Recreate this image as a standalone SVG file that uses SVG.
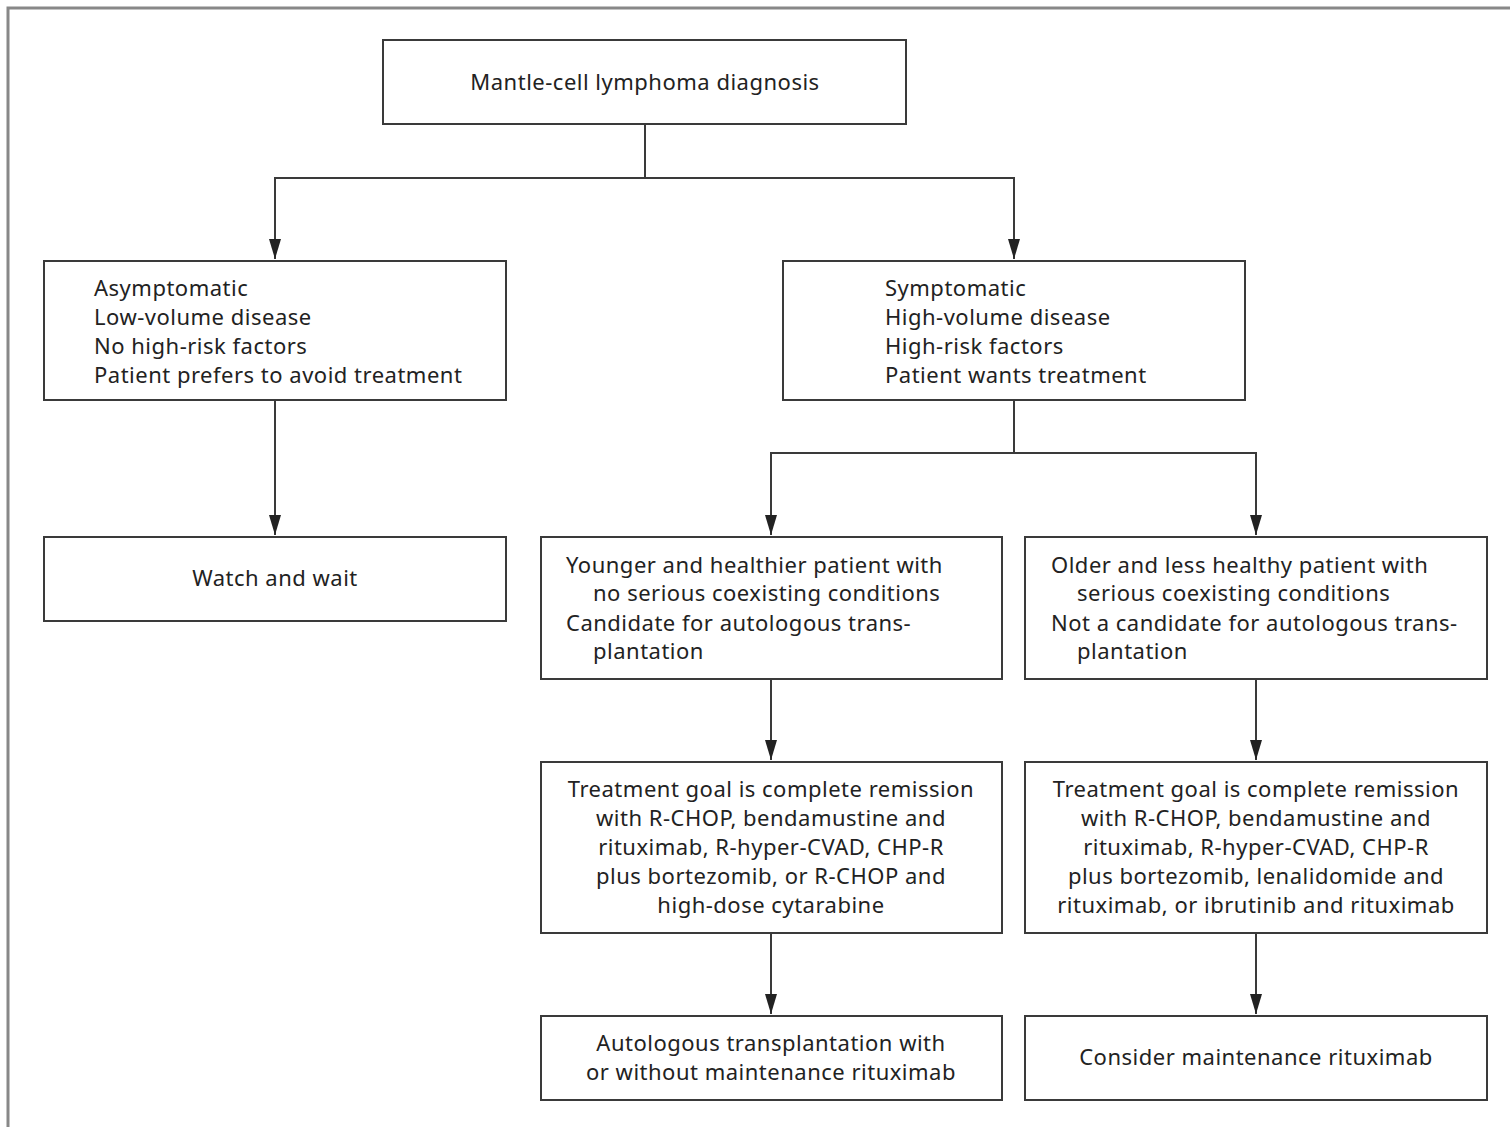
<svg xmlns="http://www.w3.org/2000/svg" width="1510" height="1127" viewBox="0 0 1510 1127">
<defs>
<style>
.box{fill:#fff;stroke:#3a3a3a;stroke-width:2}
.t{font-family:"Noto Sans","Open Sans",sans-serif;font-size:22px;letter-spacing:0.5px;fill:#222}
.c{text-anchor:middle}
.ln{fill:none;stroke:#3a3a3a;stroke-width:2}
</style>
<marker id="arr" viewBox="0 0 20 12" refX="20" refY="6" markerWidth="20" markerHeight="12" markerUnits="userSpaceOnUse" orient="auto">
<path d="M0,0 L20,6 L0,12 Z" fill="#222"/>
</marker>
</defs>
<rect width="1510" height="1127" fill="#fff"/>
<path d="M8,1127 V8 H1510" fill="none" stroke="#888" stroke-width="3"/>
<g id="connectors">
<path class="ln" d="M645,124 V178 H275 V259" marker-end="url(#arr)"/>
<path class="ln" d="M645,178 H1014 V259" marker-end="url(#arr)"/>
<path class="ln" d="M275,400 V535" marker-end="url(#arr)"/>
<path class="ln" d="M1014,400 V453 H771 V535" marker-end="url(#arr)"/>
<path class="ln" d="M1014,453 H1256 V535" marker-end="url(#arr)"/>
<path class="ln" d="M771,679 V760" marker-end="url(#arr)"/>
<path class="ln" d="M1256,679 V760" marker-end="url(#arr)"/>
<path class="ln" d="M771,933 V1014" marker-end="url(#arr)"/>
<path class="ln" d="M1256,933 V1014" marker-end="url(#arr)"/>
</g>
<g id="n-diagnosis">
<rect class="box" x="383" y="40" width="523" height="84"/>
<text class="t c" x="645" y="90">Mantle-cell lymphoma diagnosis</text>
</g>
<g id="n-asymptomatic">
<rect class="box" x="44" y="261" width="462" height="139"/>
<text class="t" x="94" y="296">Asymptomatic</text>
<text class="t" x="94" y="325">Low-volume disease</text>
<text class="t" x="94" y="354">No high-risk factors</text>
<text class="t" x="94" y="383">Patient prefers to avoid treatment</text>
</g>
<g id="n-symptomatic">
<rect class="box" x="783" y="261" width="462" height="139"/>
<text class="t" x="885" y="296">Symptomatic</text>
<text class="t" x="885" y="325">High-volume disease</text>
<text class="t" x="885" y="354">High-risk factors</text>
<text class="t" x="885" y="383">Patient wants treatment</text>
</g>
<g id="n-watch">
<rect class="box" x="44" y="537" width="462" height="84"/>
<text class="t c" x="275" y="586">Watch and wait</text>
</g>
<g id="n-younger">
<rect class="box" x="541" y="537" width="461" height="142"/>
<text class="t" x="566" y="573">Younger and healthier patient with</text>
<text class="t" x="593" y="601">no serious coexisting conditions</text>
<text class="t" x="566" y="631">Candidate for autologous trans-</text>
<text class="t" x="593" y="659">plantation</text>
</g>
<g id="n-older">
<rect class="box" x="1025" y="537" width="462" height="142"/>
<text class="t" x="1051" y="573">Older and less healthy patient with</text>
<text class="t" x="1077" y="601">serious coexisting conditions</text>
<text class="t" x="1051" y="631">Not a candidate for autologous trans-</text>
<text class="t" x="1077" y="659">plantation</text>
</g>
<g id="n-treat-young">
<rect class="box" x="541" y="762" width="461" height="171"/>
<text class="t c" x="771" y="797">Treatment goal is complete remission</text>
<text class="t c" x="771" y="826">with R-CHOP, bendamustine and</text>
<text class="t c" x="771" y="855">rituximab, R-hyper-CVAD, CHP-R</text>
<text class="t c" x="771" y="884">plus bortezomib, or R-CHOP and</text>
<text class="t c" x="771" y="913">high-dose cytarabine</text>
</g>
<g id="n-treat-old">
<rect class="box" x="1025" y="762" width="462" height="171"/>
<text class="t c" x="1256" y="797">Treatment goal is complete remission</text>
<text class="t c" x="1256" y="826">with R-CHOP, bendamustine and</text>
<text class="t c" x="1256" y="855">rituximab, R-hyper-CVAD, CHP-R</text>
<text class="t c" x="1256" y="884">plus bortezomib, lenalidomide and</text>
<text class="t c" x="1256" y="913">rituximab, or ibrutinib and rituximab</text>
</g>
<g id="n-auto">
<rect class="box" x="541" y="1016" width="461" height="84"/>
<text class="t c" x="771" y="1051">Autologous transplantation with</text>
<text class="t c" x="771" y="1080">or without maintenance rituximab</text>
</g>
<g id="n-maint">
<rect class="box" x="1025" y="1016" width="462" height="84"/>
<text class="t c" x="1256" y="1065">Consider maintenance rituximab</text>
</g>
</svg>
